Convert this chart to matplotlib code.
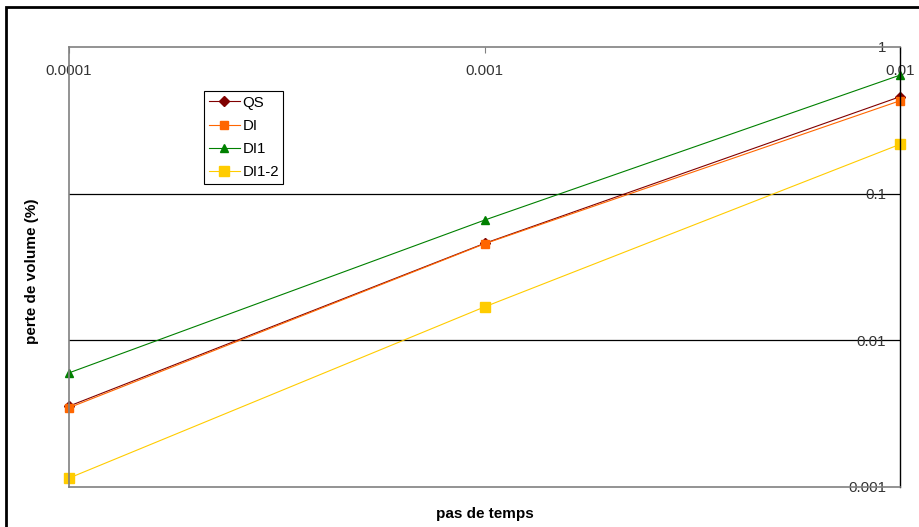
import matplotlib.pyplot as plt
from matplotlib.patches import Rectangle

plt.rcParams['font.family'] = ['Liberation Sans', 'DejaVu Sans']

# time steps and volume loss (%)
pas = [0.0001, 0.001, 0.01]
qs = [0.00356, 0.0458, 0.458]
di = [0.00347, 0.0455, 0.43]
di1 = [0.0060, 0.066, 0.643]
di1_2 = [0.00115, 0.0169, 0.217]

xticks = [0.0001, 0.001, 0.01]
xlabels = ['0.0001', '0.001', '0.01']
yticks = [0.001, 0.01, 0.1, 1]
ylabels = ['0.001', '0.01', '0.1', '1']

W, H = 919, 527
fig = plt.figure(figsize=(W / 100, H / 100), dpi=100)
ax = fig.add_axes([69 / W, 1 - 487 / H, 831 / W, 440 / H])

ax.plot(pas, qs, color='#800000', marker='D', markersize=5, lw=0.8, label='QS', clip_on=False)
ax.plot(pas, di, color='#ff6600', marker='s', markersize=5.5, lw=0.8, label='DI', clip_on=False)
ax.plot(pas, di1, color='#008000', marker='^', markersize=6, lw=0.8, label='DI1', clip_on=False)
ax.plot(pas, di1_2, color='#ffcc00', marker='s', markersize=7, lw=0.8, label='DI1-2', clip_on=False)

ax.set_xscale('log')
ax.set_yscale('log')
ax.set_xlim(0.0001, 0.01)
ax.set_ylim(0.001, 1)

ax.set_xticks(xticks)
ax.set_xticklabels(xlabels)
ax.set_yticks(yticks)
ax.set_yticklabels(ylabels)
ax.minorticks_off()

ax.xaxis.tick_top()
ax.yaxis.tick_right()
ax.tick_params(axis='x', direction='in', length=4, color='#808080', pad=-12,
               labelsize=10.8, labelcolor='#333333')
ax.tick_params(axis='y', direction='in', length=0, pad=-10,
               labelsize=10.8, labelcolor='#333333')
for t in ax.xaxis.get_major_ticks():
    t.label2.set_verticalalignment('top')
for t in ax.yaxis.get_major_ticks():
    t.label2.set_horizontalalignment('right')

for y in [0.01, 0.1]:
    ax.axhline(y, color='black', lw=0.9, zorder=0)

for s in ['top', 'left', 'bottom']:
    ax.spines[s].set_color('#808080')
    ax.spines[s].set_linewidth(1.2)
ax.spines['right'].set_color('black')
ax.spines['right'].set_linewidth(1)

ax.set_ylabel('perte de volume (%)', fontsize=11, fontweight='bold')
ax.yaxis.set_label_position('left')
ax.yaxis.set_label_coords(-0.036, 0.49)
ax.set_xlabel('pas de temps', fontsize=11, fontweight='bold')
ax.xaxis.set_label_position('bottom')
ax.xaxis.set_label_coords(0.5, -0.045)

leg = ax.legend(loc='upper left', bbox_to_anchor=(204 / W, 1 - 91 / H),
                bbox_transform=fig.transFigure, fontsize=10.8, frameon=True,
                fancybox=False, edgecolor='black', framealpha=1,
                borderpad=0.3, labelspacing=0.62, handlelength=2.1,
                handletextpad=0.15, borderaxespad=0)
leg.get_frame().set_linewidth(0.8)

fig.patches.append(Rectangle((6 / W, -0.1), 1.2, 1 - 7 / H + 0.1,
                             transform=fig.transFigure, fill=False,
                             edgecolor='black', lw=2, clip_on=False))

fig.savefig('out.png', dpi=100)
